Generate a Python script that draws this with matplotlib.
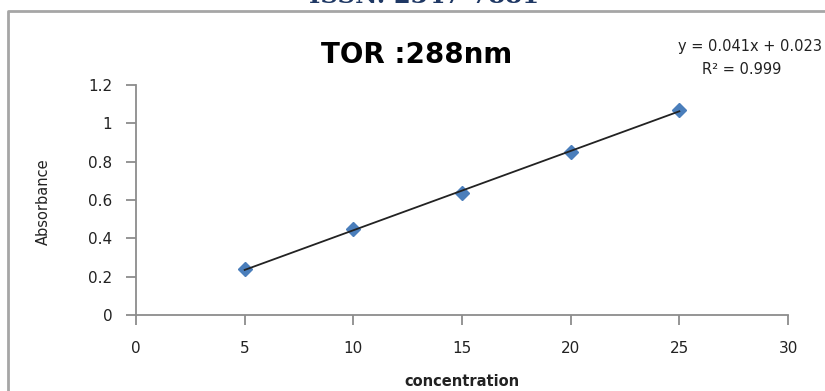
import numpy as np
import matplotlib
matplotlib.use("Agg")
import matplotlib.pyplot as plt
from matplotlib.lines import Line2D

concentration = [5, 10, 15, 20, 25]
absorbance = [0.238, 0.447, 0.638, 0.852, 1.070]
x_ticks = [0, 5, 10, 15, 20, 25, 30]
y_ticks = [0, 0.2, 0.4, 0.6, 0.8, 1.0, 1.2]
y_tick_labels = ["0", "0.2", "0.4", "0.6", "0.8", "1", "1.2"]
title = "TOR :288nm"
equation = "y = 0.041x + 0.023"
r2_text = "R² = 0.999"

W, H = 825, 391
fig = plt.figure(figsize=(W / 100, H / 100), dpi=100)
fig.patch.set_facecolor("white")

# page header clipped at top
fig.text(424 / W, 1 - 3 / H, "ISSN: 2347-7881", ha="center", va="baseline",
         fontsize=17.5, fontweight="bold", family="DejaVu Serif", color="#1F3864")

# chart border (extends beyond right/bottom)
fig.add_artist(Line2D([8 / W, 8 / W, 1.01], [-0.01, 1 - 11 / H, 1 - 11 / H],
                      transform=fig.transFigure, color="#a6a6a6", lw=2))

ax = fig.add_axes([136 / W, 1 - 315 / H, (788 - 136) / W, (315 - 85) / H])
ax.set_xlim(0, 30)
ax.set_ylim(0, 1.2)
ax.set_xticks(x_ticks)
ax.set_yticks(y_ticks)
ax.set_yticklabels(y_tick_labels)
for s in ["top", "right"]:
    ax.spines[s].set_visible(False)
for s in ["left", "bottom"]:
    ax.spines[s].set_color("#8c8c8c")
    ax.spines[s].set_linewidth(1.3)
ax.tick_params(axis="both", direction="out", length=7, width=1.3, color="#8c8c8c",
               labelsize=11, labelcolor="#222222")
ax.tick_params(axis="x", pad=12)
ax.tick_params(axis="y", pad=10)

ax.plot(concentration, absorbance, linestyle="none", marker="D", markersize=7,
        color="#4A7EBB", zorder=3, clip_on=False)
coef = np.polyfit(concentration, absorbance, 1)
xs = np.array([concentration[0], concentration[-1]])
ax.plot(xs, np.polyval(coef, xs), color="#222222", lw=1.3, zorder=4)

fig.text(417 / W, 1 - 55 / H, title, ha="center", va="center", fontsize=20,
         fontweight="bold", color="black")
fig.text(822 / W, 1 - 46 / H, equation, ha="right", va="center", fontsize=10.5,
         color="#222222")
fig.text(742 / W, 1 - 70 / H, r2_text, ha="center", va="center", fontsize=10.5,
         color="#222222")

fig.text(43 / W, 1 - 202 / H, "Absorbance", rotation=90, ha="center", va="center",
         fontsize=10.5, family=["Liberation Sans Narrow", "DejaVu Sans"], color="#222222")
fig.text(462 / W, 1 - 381 / H, "concentration", ha="center", va="center",
         fontsize=10.5, fontweight="bold", color="#222222")

fig.savefig("out.png", dpi=100)
